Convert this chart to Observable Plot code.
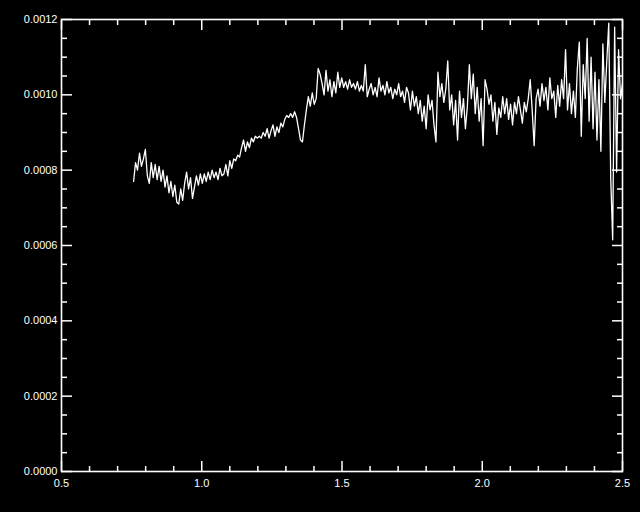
<!DOCTYPE html>
<html>
<head>
<meta charset="utf-8">
<script src="https://cdn.jsdelivr.net/npm/d3@7"></script>
<script src="https://cdn.jsdelivr.net/npm/@observablehq/plot@0.6"></script>
<style>
  html, body { margin: 0; padding: 0; background: #000; }
  #chart { width: 640px; height: 512px; }
</style>
</head>
<body>
<div id="chart"></div>
<script>
const wavelength = [
  0.757,0.764,0.771,0.778,0.785,0.792,0.799,0.806,0.813,0.820,
  0.827,0.834,0.841,0.848,0.855,0.862,0.869,0.876,0.883,0.890,
  0.897,0.904,0.911,0.918,0.925,0.932,0.939,0.946,0.953,0.960,
  0.967,0.974,0.981,0.988,0.995,1.002,1.009,1.016,1.023,1.030,
  1.037,1.044,1.051,1.058,1.065,1.072,1.079,1.086,1.093,1.100,
  1.107,1.114,1.121,1.128,1.135,1.142,1.149,1.156,1.163,1.170,
  1.177,1.184,1.191,1.198,1.205,1.212,1.219,1.226,1.233,1.240,
  1.247,1.254,1.261,1.268,1.275,1.282,1.289,1.296,1.303,1.310,
  1.317,1.324,1.331,1.338,1.345,1.352,1.359,1.366,1.373,1.380,
  1.387,1.394,1.401,1.408,1.415,1.422,1.429,1.436,1.443,1.450,
  1.457,1.464,1.471,1.478,1.485,1.492,1.499,1.506,1.513,1.520,
  1.527,1.534,1.541,1.548,1.555,1.562,1.569,1.576,1.583,1.590,
  1.597,1.604,1.611,1.618,1.625,1.632,1.639,1.646,1.653,1.660,
  1.667,1.674,1.681,1.688,1.695,1.702,1.709,1.716,1.723,1.730,
  1.737,1.744,1.751,1.758,1.765,1.772,1.779,1.786,1.793,1.800,
  1.807,1.814,1.821,1.828,1.835,1.842,1.849,1.856,1.863,1.870,
  1.877,1.884,1.891,1.898,1.905,1.912,1.919,1.926,1.933,1.940,
  1.947,1.954,1.961,1.968,1.975,1.982,1.989,1.996,2.003,2.010,
  2.017,2.024,2.031,2.038,2.045,2.052,2.059,2.066,2.073,2.080,
  2.087,2.094,2.101,2.108,2.115,2.122,2.129,2.136,2.143,2.150,
  2.157,2.164,2.171,2.178,2.185,2.192,2.199,2.206,2.213,2.220,
  2.227,2.234,2.241,2.248,2.255,2.262,2.269,2.276,2.283,2.290,
  2.297,2.304,2.311,2.318,2.325,2.332,2.339,2.346,2.353,2.360,
  2.367,2.374,2.381,2.388,2.395,2.402,2.409,2.416,2.423,2.430,
  2.437,2.444,2.451,2.458,2.465,2.472,2.479,2.486,2.493,2.500
];

const flux = [
  7.7e-4,8.2e-4,8.0e-4,8.45e-4,8.1e-4,8.3e-4,8.55e-4,7.85e-4,7.65e-4,8.2e-4,
  7.8e-4,8.15e-4,7.75e-4,8.1e-4,7.7e-4,8.0e-4,7.55e-4,7.85e-4,7.4e-4,7.7e-4,
  7.3e-4,7.6e-4,7.15e-4,7.1e-4,7.5e-4,7.2e-4,7.65e-4,7.95e-4,7.5e-4,7.8e-4,
  7.25e-4,7.55e-4,7.85e-4,7.6e-4,7.9e-4,7.65e-4,7.9e-4,7.7e-4,7.95e-4,7.75e-4,
  8.0e-4,7.8e-4,7.95e-4,7.75e-4,8.05e-4,7.85e-4,7.9e-4,8.15e-4,7.85e-4,8.25e-4,
  8.05e-4,8.3e-4,8.25e-4,8.4e-4,8.35e-4,8.6e-4,8.8e-4,8.5e-4,8.75e-4,8.6e-4,
  8.85e-4,8.75e-4,8.9e-4,8.85e-4,8.9e-4,8.85e-4,9.0e-4,8.9e-4,9.1e-4,8.85e-4,
  9.05e-4,9.2e-4,8.9e-4,9.15e-4,9.0e-4,9.25e-4,9.15e-4,9.35e-4,9.45e-4,9.4e-4,
  9.5e-4,9.4e-4,9.55e-4,9.4e-4,9.1e-4,8.8e-4,8.75e-4,9.2e-4,9.6e-4,9.95e-4,
  9.7e-4,10.05e-4,9.75e-4,9.9e-4,10.7e-4,10.55e-4,10.3e-4,10.0e-4,10.65e-4,10.1e-4,
  10.4e-4,9.95e-4,10.35e-4,10.05e-4,10.6e-4,10.2e-4,10.45e-4,10.2e-4,10.35e-4,10.15e-4,
  10.4e-4,10.2e-4,10.3e-4,10.15e-4,10.35e-4,10.1e-4,10.25e-4,10.1e-4,10.8e-4,9.95e-4,
  10.15e-4,10.3e-4,10.0e-4,10.2e-4,9.95e-4,10.45e-4,10.1e-4,10.25e-4,10.0e-4,10.35e-4,
  10.05e-4,10.2e-4,9.9e-4,10.15e-4,10.0e-4,10.3e-4,9.95e-4,10.1e-4,9.8e-4,10.2e-4,
  10.05e-4,9.6e-4,10.1e-4,9.7e-4,9.95e-4,9.5e-4,9.85e-4,9.3e-4,9.7e-4,9.1e-4,
  10.0e-4,9.6e-4,9.85e-4,9.2e-4,8.75e-4,10.6e-4,9.95e-4,10.3e-4,9.8e-4,10.15e-4,
  10.9e-4,9.6e-4,10.0e-4,9.2e-4,9.85e-4,8.8e-4,10.1e-4,9.4e-4,9.9e-4,9.1e-4,
  9.7e-4,10.8e-4,9.9e-4,10.55e-4,9.5e-4,10.2e-4,9.3e-4,9.9e-4,8.65e-4,10.4e-4,
  10.15e-4,9.75e-4,10.0e-4,9.3e-4,9.8e-4,8.95e-4,9.65e-4,9.4e-4,9.95e-4,9.5e-4,
  9.9e-4,9.35e-4,9.75e-4,9.2e-4,9.8e-4,9.5e-4,9.95e-4,9.6e-4,9.25e-4,9.8e-4,
  9.55e-4,9.9e-4,10.4e-4,9.6e-4,8.65e-4,9.9e-4,10.15e-4,9.7e-4,10.3e-4,9.85e-4,
  10.2e-4,9.6e-4,10.45e-4,9.9e-4,10.1e-4,9.4e-4,10.25e-4,9.7e-4,10.4e-4,9.9e-4,
  11.2e-4,9.6e-4,10.3e-4,9.5e-4,10.1e-4,9.4e-4,10.7e-4,11.4e-4,8.9e-4,10.8e-4,
  9.9e-4,11.5e-4,9.3e-4,11.0e-4,9.1e-4,10.6e-4,8.8e-4,10.4e-4,8.5e-4,11.35e-4,
  9.8e-4,10.9e-4,11.9e-4,7.8e-4,6.15e-4,11.8e-4,7.95e-4,11.2e-4,9.9e-4,10.3e-4
];

const xMajorTicks = [0.5, 1.0, 1.5, 2.0, 2.5];
const xMinorTicks = [0.6, 0.7, 0.8, 0.9, 1.1, 1.2, 1.3, 1.4, 1.6, 1.7, 1.8, 1.9, 2.1, 2.2, 2.3, 2.4];
const yMajorTicks = [0, 0.0002, 0.0004, 0.0006, 0.0008, 0.0010, 0.0012];
const yMinorTicks = [0.00005, 0.0001, 0.00015, 0.00025, 0.0003, 0.00035, 0.00045, 0.0005, 0.00055,
  0.00065, 0.0007, 0.00075, 0.00085, 0.0009, 0.00095, 0.00105, 0.0011, 0.00115];

const rows = wavelength.map((w, i) => ({w, f: flux[i]}));
const blank = () => "";

const chart = Plot.plot({
  width: 640,
  height: 512,
  marginLeft: 61,
  marginRight: 18,
  marginTop: 19,
  marginBottom: 41,
  x: {domain: [0.5, 2.5]},
  y: {domain: [0, 0.0012]},
  style: {background: "#000", color: "#fff", fontFamily: "'Liberation Sans', Arial, sans-serif", fontSize: "11px"},
  marks: [
    Plot.line(rows, {x: "w", y: "f", stroke: "#fff", strokeWidth: 1.3}),
    Plot.frame({stroke: "#fff", strokeWidth: 1.6}),
    Plot.axisX({ticks: xMajorTicks, tickSize: 0, tickPadding: 8, tickFormat: d => d.toFixed(1), label: null}),
    Plot.axisY({ticks: yMajorTicks, tickSize: 0, tickPadding: 4, tickFormat: d => d.toFixed(4), label: null}),
    Plot.axisX({anchor: "bottom", ticks: xMajorTicks, tickSize: -10, tickFormat: blank, label: null, strokeWidth: 1.5}),
    Plot.axisX({anchor: "bottom", ticks: xMinorTicks, tickSize: -5, tickFormat: blank, label: null, strokeWidth: 1.5}),
    Plot.axisX({anchor: "top", ticks: xMajorTicks, tickSize: -10, tickFormat: blank, label: null, strokeWidth: 1.5}),
    Plot.axisX({anchor: "top", ticks: xMinorTicks, tickSize: -5, tickFormat: blank, label: null, strokeWidth: 1.5}),
    Plot.axisY({anchor: "left", ticks: yMajorTicks, tickSize: -11, tickFormat: blank, label: null, strokeWidth: 1.5}),
    Plot.axisY({anchor: "left", ticks: yMinorTicks, tickSize: -6, tickFormat: blank, label: null, strokeWidth: 1.5}),
    Plot.axisY({anchor: "right", ticks: yMajorTicks, tickSize: -11, tickFormat: blank, label: null, strokeWidth: 1.5}),
    Plot.axisY({anchor: "right", ticks: yMinorTicks, tickSize: -6, tickFormat: blank, label: null, strokeWidth: 1.5})
  ]
});
document.getElementById("chart").appendChild(chart);
</script>
</body>
</html>
